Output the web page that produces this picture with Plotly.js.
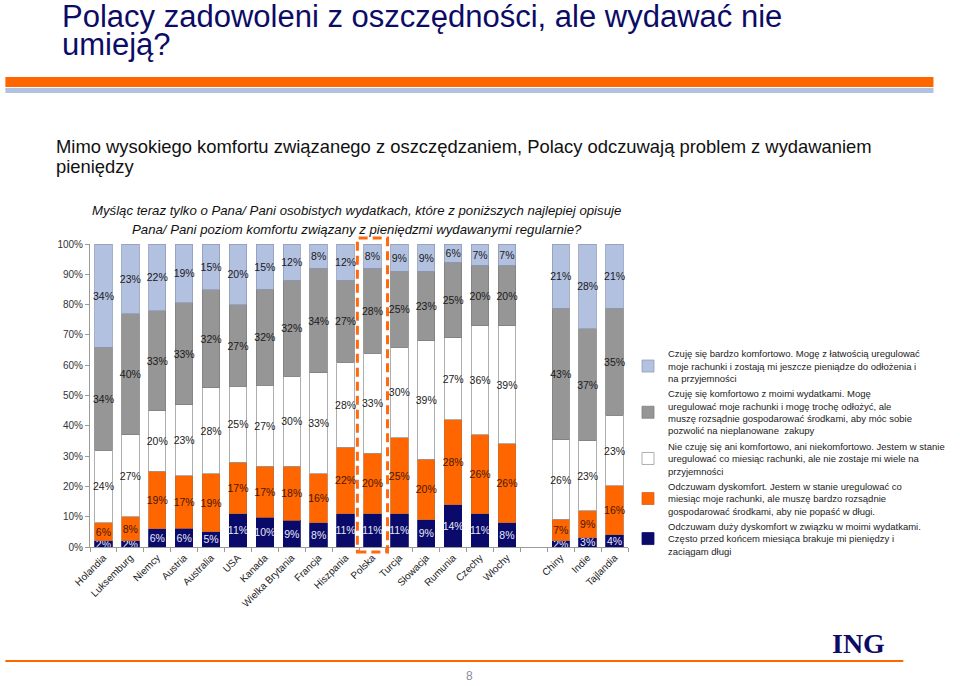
<!DOCTYPE html>
<html>
<head>
<meta charset="utf-8">
<script src="https://cdn.plot.ly/plotly-3.0.1.min.js"></script>
<style>
  html, body { margin: 0; padding: 0; background: #ffffff; }
  #chart { width: 960px; height: 686px; }
</style>
</head>
<body>
<div id="chart"></div>
<script>
// ---------- data ----------
const categories = ["Holandia", "Luksemburg", "Niemcy", "Austria", "Australia", "USA", "Kanada",
  "Wielka Brytania", "Francja", "Hiszpania", "Polska", "Turcja", "Słowacja", "Rumunia", "Czechy",
  "Włochy", "\u00a0", "Chiny", "Indie", "Tajlandia"];

const duzyDyskomfort   = [2, 2, 6, 6, 5, 11, 10, 9, 8, 11, 11, 11, 9, 14, 11, 8, null, 2, 3, 4];
const dyskomfort       = [6, 8, 19, 17, 19, 17, 17, 18, 16, 22, 20, 25, 20, 28, 26, 26, null, 7, 9, 16];
const neutralnie       = [24, 27, 20, 23, 28, 25, 27, 30, 33, 28, 33, 30, 39, 27, 36, 39, null, 26, 23, 23];
const komfortowo       = [34, 40, 33, 33, 32, 27, 32, 32, 34, 27, 28, 25, 23, 25, 20, 20, null, 43, 37, 35];
const bardzoKomfortowo = [34, 23, 22, 19, 15, 20, 15, 12, 8, 12, 8, 9, 9, 6, 7, 7, null, 21, 28, 21];

const seriesNames = [
  "Odczuwam duży dyskomfort w związku w moimi wydatkami.<br>Często przed końcem miesiąca brakuje mi pieniędzy i<br>zaciągam długi",
  "Odczuwam dyskomfort. Jestem w stanie uregulować co<br>miesiąc moje rachunki, ale muszę bardzo rozsądnie<br>gospodarować środkami, aby nie popaść w długi.",
  "Nie czuję się ani komfortowo, ani niekomfortowo. Jestem w stanie<br>uregulować co miesiąc rachunki, ale nie zostaje mi wiele na<br>przyjemności",
  "Czuję się komfortowo z moimi wydatkami. Mogę<br>uregulować moje rachunki i mogę trochę odłożyć, ale<br>muszę rozsądnie gospodarować środkami, aby móc sobie<br>pozwolić na nieplanowane  zakupy",
  "Czuję się bardzo komfortowo. Mogę z łatwością uregulować<br>moje rachunki i zostają mi jeszcze pieniądze do odłożenia i<br>na przyjemności"
];
const highlighted = "Polska";

// ---------- styling ----------
const W = 960, H = 686;
const M = { l: 90, r: 317, t: 244, b: 139 };
const PW = W - M.l - M.r, PH = H - M.t - M.b;
const px = x => (x - M.l) / PW;          // pixel -> paper x
const py = y => (H - M.b - y) / PH;      // pixel -> paper y

const colors    = ["#0a0a6b", "#ff6600", "#ffffff", "#969696", "#b3c1e1"];
const lineCols  = ["#0a0a6b", "#c86a30", "#9a9a9a", "#7f7f7f", "#8f9cb8"];
const textCols  = ["#e8e8f4", "#4a1800", "#222222", "#1a1a1a", "#1a1a1a"];
const allSeries = [duzyDyskomfort, dyskomfort, neutralnie, komfortowo, bardzoKomfortowo];

const traces = allSeries.map((vals, i) => ({
  type: "bar",
  name: seriesNames[i],
  x: categories,
  y: vals,
  text: vals.map(v => v == null ? "" : v + "%"),
  textposition: "inside",
  insidetextanchor: "middle",
  textangle: 0,
  constraintext: "none",
  textfont: { family: "Liberation Sans, Arial, sans-serif", size: 10.5, color: textCols[i] },
  marker: { color: colors[i], line: { color: lineCols[i], width: 0.8 } },
  legendgroup: "g" + i,
  legendrank: 10 - i,
  hoverinfo: "skip"
}));

const font = "Liberation Sans, Arial, sans-serif";

const annotations = [
  { text: "Polacy zadowoleni z oszczędności, ale wydawać nie", x: px(59), y: py(17),
    font: { family: font, size: 31, color: "#0c0c66" } },
  { text: "umieją?", x: px(59), y: py(45),
    font: { family: font, size: 31, color: "#0c0c66" } },
  { text: "Mimo wysokiego komfortu związanego z oszczędzaniem, Polacy odczuwają problem z wydawaniem", x: px(53), y: py(146),
    font: { family: font, size: 18.4, color: "#111111" } },
  { text: "pieniędzy", x: px(53), y: py(167),
    font: { family: font, size: 18.4, color: "#111111" } },
  { text: "<i>Myśląc teraz tylko o Pana/ Pani osobistych wydatkach, które z poniższych najlepiej opisuje</i>",
    x: px(364), y: py(211), xanchor: "center",
    font: { family: font, size: 13.2, color: "#111111" } },
  { text: "<i>Pana/ Pani poziom komfortu związany z pieniędzmi wydawanymi regularnie?</i>",
    x: px(364), y: py(229), xanchor: "center",
    font: { family: font, size: 13.2, color: "#111111" } },
  { text: "<b>ING</b>", x: px(880), y: py(643), xanchor: "center",
    font: { family: "Liberation Serif, Times New Roman, serif", size: 28, color: "#0c0c66" } },
  { text: "8", x: px(480), y: py(676), xanchor: "center",
    font: { family: font, size: 12, color: "#8a8aa0" } }
].map(a => Object.assign({ xref: "paper", yref: "paper", xanchor: "left", yanchor: "middle",
  showarrow: false }, a));

const shapes = [
  { type: "rect", xref: "paper", yref: "paper", x0: px(3), x1: px(957), y0: py(87), y1: py(77),
    fillcolor: "#ff6600", line: { width: 0 } },
  { type: "rect", xref: "paper", yref: "paper", x0: px(3), x1: px(957), y0: py(93), y1: py(88),
    fillcolor: "#b3c1e1", line: { width: 0 } },
  { type: "rect", xref: "paper", yref: "paper", x0: px(3), x1: px(926), y0: py(662), y1: py(660),
    fillcolor: "#ff6600", line: { width: 0 } },
  { type: "rect", xref: "x", yref: "paper", x0: highlighted, x1: highlighted, x0shift: -0.56, x1shift: 0.56,
    y0: py(552), y1: py(238), fillcolor: "rgba(0,0,0,0)",
    line: { color: "#ff6a10", width: 3, dash: "9px,5px" } }
];

const layout = {
  width: W, height: H,
  margin: M,
  paper_bgcolor: "#ffffff",
  plot_bgcolor: "#ffffff",
  font: { family: font, size: 10, color: "#222222" },
  barmode: "stack",
  barnorm: "percent",
  bargap: 0.35,
  showlegend: true,
  legend: {
    xref: "container", yref: "container",
    x: 628 / W, y: 1 - 341 / H, xanchor: "left", yanchor: "top",
    traceorder: "grouped",
    tracegroupgap: 0,
    font: { family: font, size: 9.5, color: "#222222" },
    bgcolor: "rgba(0,0,0,0)"
  },
  xaxis: {
    type: "category",
    categoryorder: "array",
    categoryarray: categories,
    tickson: "boundaries",
    ticks: "outside", ticklen: 4, tickcolor: "#9a9a9a",
    showline: true, linecolor: "#9a9a9a", linewidth: 1,
    showgrid: false, zeroline: false,
    tickangle: -45,
    tickfont: { family: font, size: 10, color: "#222222" },
    fixedrange: true
  },
  yaxis: {
    range: [0, 100],
    tickvals: [0, 10, 20, 30, 40, 50, 60, 70, 80, 90, 100],
    ticktext: ["0%", "10%", "20%", "30%", "40%", "50%", "60%", "70%", "80%", "90%", "100%"],
    ticks: "outside", ticklen: 4, tickcolor: "#9a9a9a",
    showline: true, linecolor: "#9a9a9a", linewidth: 1,
    showgrid: false, zeroline: false,
    tickfont: { family: font, size: 10, color: "#333333" },
    fixedrange: true
  },
  annotations: annotations,
  shapes: shapes
};

Plotly.newPlot("chart", traces, layout, { displayModeBar: false, staticPlot: true });
</script>
</body>
</html>
